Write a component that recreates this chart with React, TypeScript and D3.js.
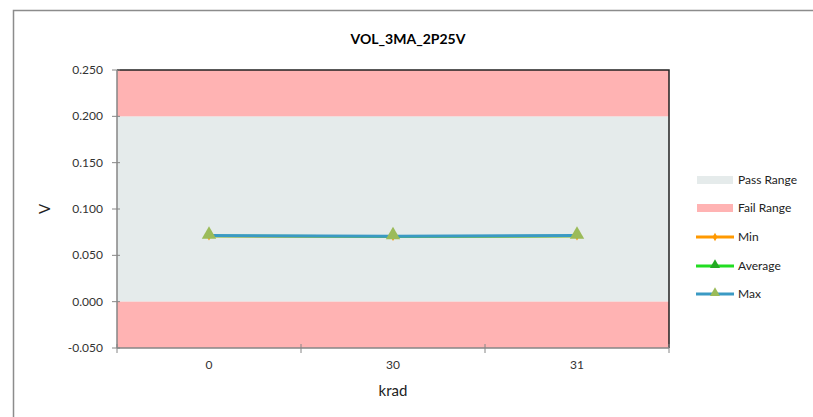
import React from "react";
import * as d3 from "d3";

const title = "VOL_3MA_2P25V";
const categories = ["0", "30", "31"];
const minValues = [0.0706, 0.0700, 0.0706];
const avgValues = [0.0709, 0.0703, 0.0709];
const maxValues = [0.0713, 0.0707, 0.0713];
const yTicks = [-0.05, 0, 0.05, 0.1, 0.15, 0.2, 0.25];
const passRange = [0, 0.2];
const failRanges = [[0.2, 0.25], [-0.05, 0]];
const legendItems = ["Pass Range", "Fail Range", "Min", "Average", "Max"];

const W = 813, H = 417;
const plot = { left: 117, right: 669, top: 70, bottom: 348 };
const FONT = "Lato, 'Open Sans', 'Liberation Sans', sans-serif";

export default function App() {
  const x = d3.scaleBand<string>().domain(categories).range([plot.left, plot.right]).padding(0);
  const y = d3.scaleLinear().domain([-0.05, 0.25]).range([plot.bottom, plot.top]);
  const cx = (c: string) => (x(c) as number) + x.bandwidth() / 2;
  const line = (vals: number[]) =>
    d3.line<number>().x((_, i) => cx(categories[i])).y((v) => y(v))(vals) as string;
  const tri = d3.symbol().type(d3.symbolTriangle).size(90)() as string;
  const diamond = d3.symbol().type(d3.symbolDiamond).size(20)() as string;
  const xBoundaries = [...categories.map((c) => x(c) as number), plot.right];
  const legendY = [180, 208, 237, 266, 294];
  const lx = 697;
  const fmt = (t: number) => d3.format(".3f")(t).replace("\u2212", "-");

  return (
    <svg width={W} height={H} style={{ position: "absolute", left: 0, top: 0 }}>
      <rect x={0} y={0} width={W} height={H} fill="#fff" />
      <path d={`M13.5,${H} V10.5 H${W}`} fill="none" stroke="#8c8c8c" strokeWidth={1.5} />
      <text x={408} y={44} textAnchor="middle" fontFamily={FONT} fontWeight="bold" fontSize={14} fill="#000">
        {title}
      </text>
      {/* ranges */}
      <rect x={plot.left} width={plot.right - plot.left} y={y(passRange[1])} height={y(passRange[0]) - y(passRange[1])} fill="#E5EBEB" />
      {failRanges.map((r, i) => (
        <rect key={i} x={plot.left} width={plot.right - plot.left} y={y(r[1])} height={y(r[0]) - y(r[1])} fill="#FFB3B3" />
      ))}
      {/* border top/right */}
      <path d={`M${plot.left},${plot.top} H${plot.right} V${plot.bottom}`} fill="none" stroke="#222" strokeWidth={1.5} />
      {/* y axis */}
      <line x1={plot.left} x2={plot.left} y1={plot.top} y2={plot.bottom} stroke="#868686" strokeWidth={1.5} />
      {yTicks.map((t) => (
        <g key={t}>
          <line x1={plot.left - 5} x2={plot.left + 3} y1={y(t)} y2={y(t)} stroke="#868686" strokeWidth={1} />
          <text x={plot.left - 14} y={y(t) + 4} textAnchor="end" fontFamily={FONT} fontSize={12} fill="#333">
            {fmt(t)}
          </text>
        </g>
      ))}
      {/* x axis */}
      <line x1={plot.left} x2={plot.right} y1={plot.bottom} y2={plot.bottom} stroke="#868686" strokeWidth={1.5} />
      {xBoundaries.map((b, i) => (
        <line key={i} x1={b} x2={b} y1={plot.bottom - 4} y2={plot.bottom + 5} stroke="#868686" strokeWidth={1} />
      ))}
      {categories.map((c) => (
        <text key={c} x={cx(c)} y={plot.bottom + 21} textAnchor="middle" fontFamily={FONT} fontSize={12} fill="#333">
          {c}
        </text>
      ))}
      <text x={393} y={396} textAnchor="middle" fontFamily={FONT} fontSize={15} fill="#222">krad</text>
      <text transform={`translate(50,209) rotate(-90)`} textAnchor="middle" fontFamily={FONT} fontSize={15} fill="#222">V</text>
      {/* series */}
      <path d={line(minValues)} fill="none" stroke="#FF9900" strokeWidth={2} />
      <path d={line(avgValues)} fill="none" stroke="#33CC33" strokeWidth={2.5} />
      <path d={line(maxValues)} fill="none" stroke="#3A9AC4" strokeWidth={3} />
      {minValues.map((v, i) => (
        <path key={"mn" + i} d={diamond} transform={`translate(${cx(categories[i])},${y(v)})`} fill="#FF9900" />
      ))}
      {maxValues.map((v, i) => (
        <path key={"mx" + i} d={tri} transform={`translate(${cx(categories[i])},${y(v) - 1})`} fill="#9BBB59" />
      ))}
      {/* legend */}
      {legendItems.map((name, i) => {
        const ly = legendY[i];
        return (
          <g key={name}>
            {i === 0 && <rect x={lx} y={ly - 4} width={36} height={8} fill="#E5EBEB" />}
            {i === 1 && <rect x={lx} y={ly - 4} width={36} height={8} fill="#FFB3B3" />}
            {i === 2 && (
              <g>
                <line x1={lx - 1} x2={lx + 37} y1={ly} y2={ly} stroke="#FF9900" strokeWidth={3} />
                <path d={diamond} transform={`translate(${lx + 18},${ly})`} fill="#FF9900" />
              </g>
            )}
            {i === 3 && (
              <g>
                <line x1={lx - 1} x2={lx + 37} y1={ly} y2={ly} stroke="#22DD22" strokeWidth={3} />
                <path d={tri} transform={`translate(${lx + 18},${ly - 1}) scale(0.7)`} fill="#22AA22" />
              </g>
            )}
            {i === 4 && (
              <g>
                <line x1={lx - 1} x2={lx + 37} y1={ly} y2={ly} stroke="#3A9AC4" strokeWidth={3} />
                <path d={tri} transform={`translate(${lx + 18},${ly - 1}) scale(0.7)`} fill="#9BBB59" />
              </g>
            )}
            <text x={lx + 41} y={ly + 4} fontFamily={FONT} fontSize={12} fill="#222">{name}</text>
          </g>
        );
      })}
    </svg>
  );
}
